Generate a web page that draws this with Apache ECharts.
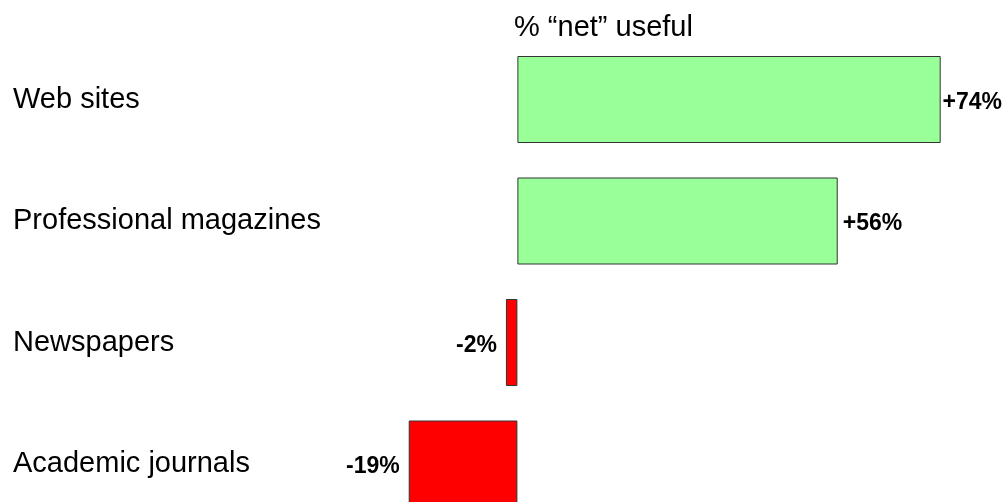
<!DOCTYPE html>
<html>
<head>
<meta charset="utf-8">
<script src="https://cdn.jsdelivr.net/npm/echarts@6/dist/echarts.min.js"></script>
<style>
html,body{margin:0;padding:0;background:#fff;overflow:hidden;width:1004px;height:502px;}
#c{width:1004px;height:540px;}
</style>
</head>
<body>
<div id="c"></div>
<script>
var categories = ['Web sites', 'Professional magazines', 'Newspapers', 'Academic journals'];
var netUseful = [74, 56, -2, -19];
var titleText = '% \u201cnet\u201d useful';

var chart = echarts.init(document.getElementById('c'), null, {renderer: 'canvas'});
var font = 'Arial, "Liberation Sans", sans-serif';

chart.setOption({
  animation: false,
  backgroundColor: '#ffffff',
  graphic: [{
    type: 'text',
    left: 514,
    top: 13,
    style: { text: titleText, font: '29px ' + font, fill: '#000' }
  }],
  grid: { left: 403, top: 38.75, width: 572, height: 486, containLabel: false },
  xAxis: {
    type: 'value', min: -20, max: 80,
    show: false
  },
  yAxis: {
    type: 'category', data: categories, inverse: true,
    axisLine: { show: false }, axisTick: { show: false },
    axisLabel: {
      align: 'left', margin: 390,
      fontFamily: font, fontSize: 29, color: '#000',
      padding: [0, 0, 4, 0]
    }
  },
  series: [{
    type: 'bar',
    barWidth: 87,
    data: netUseful.map(function (v) {
      return {
        value: v,
        itemStyle: { color: v >= 0 ? '#99FF99' : '#FF0000', borderColor: '#333333', borderWidth: 1 },
        label: { position: v >= 0 ? 'right' : 'left', distance: v >= 0 ? 5 : 9 }
      };
    }),
    label: {
      show: true,
      fontFamily: font, fontSize: 23, fontWeight: 'bold', color: '#000',
      formatter: function (p) { return (p.value > 0 ? '+' : '') + p.value + '%'; }
    }
  }],
  labelLayout: function (params) {
    var r = params.labelRect;
    if (r.x + r.width > 1002) {
      return { dx: 1002 - (r.x + r.width), dy: 3 };
    }
    return { dy: 3 };
  }
});
</script>
</body>
</html>
